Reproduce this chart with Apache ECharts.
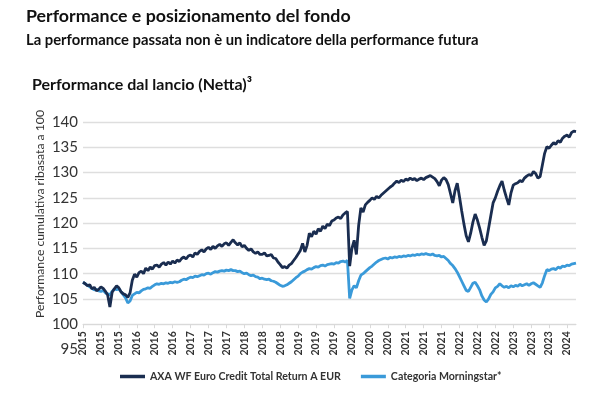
<!DOCTYPE html>
<html>
<head>
<meta charset="utf-8">
<script src="https://cdn.jsdelivr.net/npm/echarts@6/dist/echarts.min.js"></script>
<style>
html,body{margin:0;padding:0;background:#fff}
#chart{width:602px;height:398px}
</style>
</head>
<body>
<div id="chart"></div>
<script>
// etichette asse x (una ogni 4 mesi)
var tickLabels = ['2015','2015','2015','2016','2016','2016','2017','2017','2017',
    '2018','2018','2018','2019','2019','2019','2020','2020','2020','2021','2021','2021',
    '2022','2022','2022','2023','2023','2023','2024'];

var fundName = 'AXA WF Euro Credit Total Return A EUR';
var catName = 'Categoria Morningstar*';

// valori quindicinali, base 100
var fundValues = [
    108.3, 108.0, 107.6, 107.8, 107.0, 107.3, 106.6, 106.9, 107.4, 107.1,
    106.5, 105.8, 103.4, 106.3, 107.0, 107.6, 107.2, 106.4, 106.0, 105.8,
    105.3, 106.2, 108.7, 109.9, 109.3, 110.2, 110.5, 110.0, 111.1, 110.6,
    111.3, 110.9, 111.6, 111.7, 111.3, 111.9, 112.2, 111.7, 112.3, 111.9,
    112.5, 112.1, 112.7, 112.4, 113.0, 113.3, 112.9, 113.5, 113.7, 113.3,
    114.1, 113.8, 114.4, 114.7, 114.3, 114.9, 115.2, 114.8, 115.4, 115.0,
    115.5, 115.8, 115.4, 115.9, 116.1, 115.6, 116.2, 116.7, 116.1, 115.7,
    116.1, 115.3, 115.6, 115.0, 114.6, 114.9, 114.3, 114.0, 114.3, 113.8,
    113.8, 114.1, 113.5, 113.6, 113.8, 113.1, 113.0, 112.3, 111.8, 111.2,
    111.4, 111.1, 111.7, 112.0, 112.6, 113.2, 113.9, 114.6, 116.0, 114.3,
    115.6, 118.0, 117.3, 118.4, 117.8, 118.9, 118.4, 119.4, 118.9, 119.8,
    119.5, 120.4, 120.6, 121.0, 121.2, 120.9, 121.6, 122.0, 122.3, 111.5,
    115.0, 116.6, 113.8, 119.5, 123.0, 122.2, 123.6, 124.1, 124.5, 125.0,
    124.7, 125.3, 125.0, 125.5, 125.9, 126.3, 126.7, 127.1, 127.4, 127.9,
    128.3, 128.0, 128.5, 128.2, 128.7, 128.5, 128.9, 128.6, 128.8, 128.4,
    128.7, 128.9, 128.6, 129.0, 129.2, 129.4, 129.1, 128.8, 128.2, 127.4,
    128.5, 129.0, 128.6, 127.6, 125.8, 124.0, 126.4, 127.9, 125.2, 122.4,
    119.8, 117.5, 116.3, 118.0, 120.2, 121.8, 120.6, 119.0, 117.2, 115.6,
    116.5, 119.0, 121.5, 124.0, 125.0, 126.3, 127.4, 128.3, 126.5, 125.0,
    123.6, 126.0, 127.5, 127.8, 128.0, 128.4, 128.2, 128.9, 129.3, 129.6,
    129.4, 130.2, 129.8, 128.9, 129.2, 131.5, 133.8, 135.1, 134.8, 135.4,
    135.9, 135.6, 136.3, 136.0, 136.8, 137.2, 137.4, 137.0, 137.9, 138.2,
    138.1
];

var catValues = [
    108.3, 108.0, 107.7, 107.4, 107.1, 106.8, 106.9, 106.6, 106.5, 106.7,
    106.2, 106.0, 105.8, 106.5, 107.0, 106.8, 107.0, 106.4, 105.8, 105.2,
    104.2, 104.6, 105.7, 106.0, 106.3, 106.2, 106.6, 106.9, 107.0, 107.2,
    107.1, 107.5, 107.8, 108.0, 107.9, 108.1, 108.0, 108.2, 108.1, 108.3,
    108.2, 108.4, 108.3, 108.4, 108.7, 108.9, 108.8, 109.1, 109.3, 109.2,
    109.5, 109.4, 109.6, 109.8, 109.7, 110.0, 110.1, 109.9, 110.2, 110.4,
    110.3, 110.5, 110.6, 110.5, 110.7, 110.6, 110.8, 110.6, 110.6, 110.4,
    110.5, 110.2, 110.0, 110.1, 109.8, 109.6, 109.7, 109.4, 109.3, 109.0,
    109.1, 108.9, 108.8, 108.9, 108.6, 108.5, 108.3, 108.0, 107.7, 107.5,
    107.6, 107.8, 108.1, 108.4, 108.8, 109.2, 109.5, 110.0, 110.3, 110.5,
    110.8, 111.0, 110.9, 111.2, 111.4, 111.3, 111.6, 111.7, 111.5, 111.8,
    111.9, 112.0, 111.9, 112.2, 112.1, 112.4, 112.5, 112.3, 112.6, 105.1,
    106.8, 107.6, 107.2, 108.6, 109.7, 110.0, 110.4, 110.8, 111.2, 111.5,
    111.9, 112.3, 112.6, 112.8, 113.0, 113.1, 112.9, 113.2, 113.1, 113.3,
    113.2, 113.4, 113.3, 113.5, 113.4, 113.6, 113.5, 113.7, 113.6, 113.8,
    113.7, 113.9, 113.8, 114.0, 113.8, 113.7, 113.9, 113.6, 113.5, 113.6,
    113.3, 113.4, 113.0, 112.6, 112.0, 111.6, 111.0, 110.3, 109.4, 108.5,
    107.6, 106.7, 106.5, 107.3, 108.1, 108.3, 107.6, 106.8, 105.6, 104.8,
    104.4, 105.0, 105.9, 106.4, 107.2, 107.5, 108.0, 107.6, 107.3, 107.5,
    107.2, 107.6, 107.4, 107.7, 107.5, 107.9, 107.6, 107.8, 108.0, 107.7,
    108.0, 108.2, 107.9, 107.6, 107.3, 108.2, 109.6, 110.8, 110.6, 110.9,
    111.0, 110.8, 111.3, 111.1, 111.5, 111.4, 111.7, 111.6, 111.9, 112.0,
    112.1
];

var categories = fundValues.map(function (v, i) { return i; });

var myChart = echarts.init(document.getElementById('chart'));

var option = {
    animation: false,
    textStyle: { fontFamily: 'Lato' },
    title: [
        {
            text: 'Performance e posizionamento del fondo',
            left: 26, top: 7, padding: 0,
            textStyle: { fontSize: 17.8, fontWeight: 'bold', color: '#111' }
        },
        {
            text: 'La performance passata non è un indicatore della performance futura',
            left: 26, top: 33, padding: 0,
            textStyle: { fontSize: 14.8, fontWeight: 'bold', color: '#111' }
        },
        {
            text: 'Performance dal lancio (Netta)³',
            left: 32, top: 77, padding: 0,
            textStyle: { fontSize: 16, fontWeight: 'bold', color: '#111' }
        }
    ],
    graphic: [{
        type: 'text',
        x: 40, y: 214,
        rotation: Math.PI / 2,
        style: {
            text: 'Performance cumulativa ribasata a 100',
            fontFamily: 'Lato', fontSize: 12.2, fill: '#333',
            align: 'center', verticalAlign: 'middle'
        }
    }],
    legend: {
        data: [fundName, catName],
        left: 120, top: 371,
        padding: 0,
        icon: 'rect',
        itemWidth: 25, itemHeight: 3.5,
        itemGap: 20,
        textStyle: { fontSize: 10.6, fontWeight: 'bold', color: '#333' }
    },
    grid: {
        left: 83,
        right: 26,
        top: 122,
        bottom: 48.5
    },
    xAxis: {
        type: 'category',
        boundaryGap: false,
        data: categories,
        offset: -25.3,
        axisLine: { lineStyle: { color: '#d9d9d9' } },
        axisTick: { interval: 7, length: 4, lineStyle: { color: '#d9d9d9' } },
        axisLabel: {
            interval: 7,
            rotate: 90,
            margin: 7,
            fontSize: 10.5,
            fontWeight: 'bold',
            color: '#333',
            formatter: function (value, index) {
                return tickLabels[index / 8];
            }
        },
        splitLine: { show: false }
    },
    yAxis: {
        type: 'value',
        min: 95,
        max: 140,
        interval: 5,
        axisLine: { show: false },
        axisTick: { show: false },
        axisLabel: { fontSize: 15, color: '#333', margin: 5 },
        splitLine: { showMinLine: false, lineStyle: { color: '#dedede', width: 1.3 } }
    },
    series: [
        {
            name: fundName,
            type: 'line',
            symbol: 'none',
            z: 3,
            color: '#1a2d50',
            lineStyle: { width: 2.8, color: '#1a2d50' },
            data: fundValues
        },
        {
            name: catName,
            type: 'line',
            symbol: 'none',
            z: 2,
            color: '#3a9ad9',
            lineStyle: { width: 2.8, color: '#3a9ad9' },
            data: catValues
        }
    ]
};

myChart.setOption(option, true);
</script>
</body>
</html>
